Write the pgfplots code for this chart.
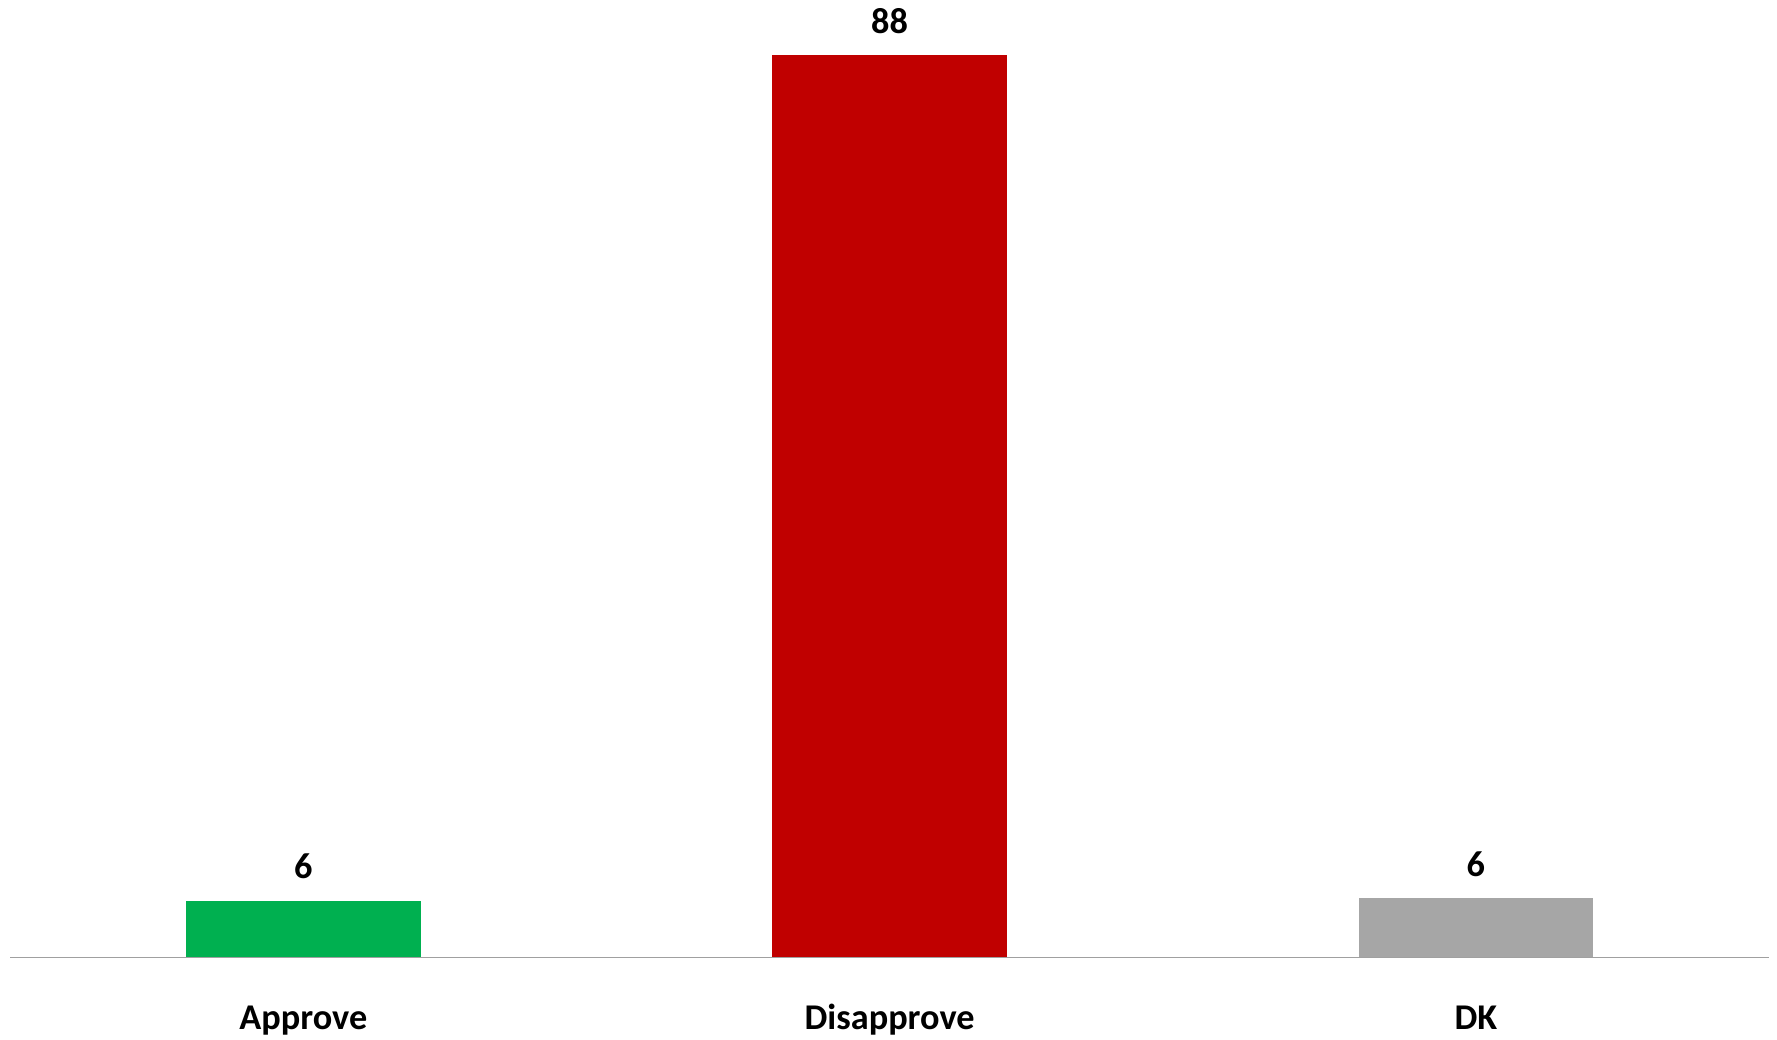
\documentclass[border=0pt]{standalone}
\usepackage{fontspec}
\setmainfont{Carlito}
\usepackage{pgfplots}
\pgfplotsset{compat=1.18}
\definecolor{cgreen}{HTML}{00B050}
\definecolor{cred}{HTML}{C00000}
\definecolor{cgray}{HTML}{A6A6A6}
\definecolor{caxis}{HTML}{A0A0A0}
\begin{document}
\begin{tikzpicture}
\path[use as bounding box] (-4.08pt,-32.7pt) rectangle (706.7pt,382.9pt);
\begin{axis}[
  at={(0,0)}, anchor=south west,
  scale only axis,
  width=703.5pt, height=382.9pt,
  xmin=-0.5, xmax=2.5, ymin=0, ymax=93.37,
  ybar, bar width=93.8pt, bar shift=0pt,
  axis y line=none,
  axis x line*=bottom,
  x axis line style={draw=caxis, line width=0.5pt, -},
  xtick={0,1,2},
  xticklabels={Approve,Disapprove,DK},
  xtick style={draw=none},
  xticklabel style={inner sep=0pt, anchor=base, yshift=-24.6pt},
  font=\fontsize{14.5}{17}\selectfont\bfseries,
  ticklabel style={font=\fontsize{14.5}{17}\selectfont\bfseries},
  /pgf/number format/assume math mode=true,
  nodes near coords={\pgfmathprintnumber[fixed,precision=0]{\pgfplotspointmeta}},
  every node near coord/.append style={inner sep=0pt, anchor=base, yshift=8.8pt, font=\fontsize{14.5}{17}\selectfont\bfseries, color=black},
  clip=false,
]
\addplot[fill=cgreen, draw=none] coordinates {(0,5.51)};
\addplot[fill=cred, draw=none] coordinates {(1,88)};
\addplot[fill=cgray, draw=none] coordinates {(2,5.75)};
\end{axis}
\end{tikzpicture}
\end{document}
